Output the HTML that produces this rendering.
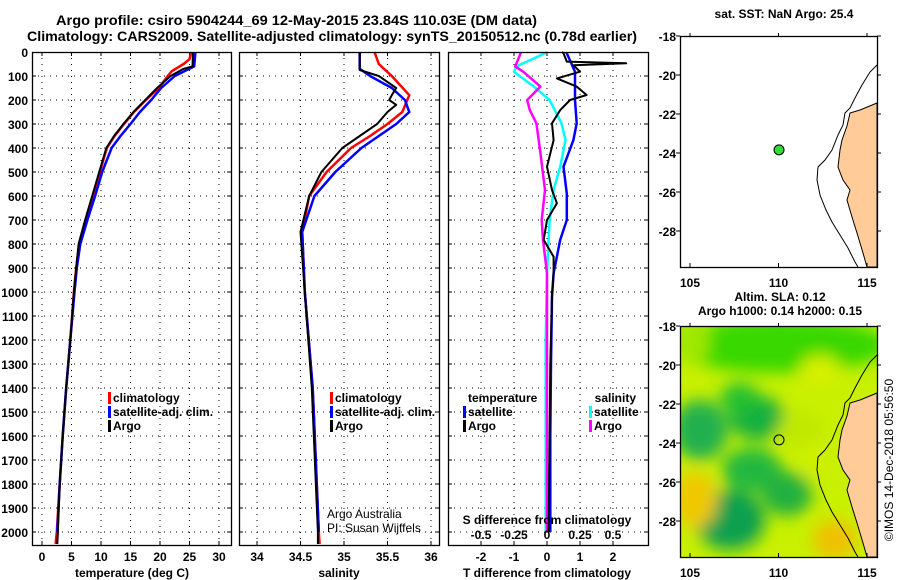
<!DOCTYPE html>
<html><head><meta charset="utf-8"><style>
html,body{margin:0;padding:0;background:#fff;}
svg{display:block;font-family:"Liberation Sans",sans-serif;}
.b{font-weight:bold;font-size:12px;}
</style></head><body>
<svg id="s" width="900" height="580" viewBox="0 0 900 580" xmlns="http://www.w3.org/2000/svg">
<text x="56" y="25" font-size="14" font-weight="bold" textLength="481" lengthAdjust="spacingAndGlyphs">Argo profile: csiro 5904244_69 12-May-2015 23.84S 110.03E (DM data)</text>
<text x="27" y="41" font-size="14" font-weight="bold" textLength="610" lengthAdjust="spacingAndGlyphs">Climatology: CARS2009. Satellite-adjusted climatology: synTS_20150512.nc (0.78d earlier)</text>
<g id="plots"></g>
<g id="maps"></g>
<text transform="translate(893,460) rotate(-90)" text-anchor="middle" font-size="12">©IMOS 14-Dec-2018 05:56:50</text>
</svg>
<script>
// ---------- data ----------
const depthTicks=[0,100,200,300,400,500,600,700,800,900,1000,1100,1200,1300,1400,1500,1600,1700,1800,1900,2000];
const tempTicks=[0,5,10,15,20,25,30];
const salTicks=[34,34.5,35,35.5,36];
const tdiffTicks=[-2,-1,0,1,2];
const sdiffTicks=[-0.5,-0.25,0,0.25,0.5];

const tArgoDepth=[0,60,70,100,150,200,250,300,350,400,500,600,700,800,900,1000,1200,1400,1600,1800,2000,2050];
const tArgo=[25.6,25.5,24,21.8,19.5,17.5,15.5,13.8,12.2,10.9,9.7,8.5,7.3,6.2,5.8,5.4,4.8,4.1,3.5,3.0,2.7,2.6];
const tClimDepth=[0,30,50,80,100,150,200,250,300,350,400,500,600,700,800,900,1000,1200,1400,1600,1800,2000,2050];
const tClim=[25.3,25.0,24.0,22.0,21.3,19.8,17.6,15.6,13.9,12.3,11.0,9.8,8.6,7.4,6.3,5.8,5.4,4.8,4.1,3.5,3.0,2.5,2.3];
const tSatDepth=[0,60,100,150,200,250,300,350,400,500,600,700,800,900,1000,1200,1400,1600,1800,2000];
const tSat=[26.0,25.8,22.5,20.2,18.5,16.6,15.0,13.3,11.8,10.2,9.0,7.7,6.5,5.9,5.5,4.8,4.1,3.5,3.0,2.6];

const sArgoDepth=[0,75,100,150,180,200,220,250,300,350,400,500,600,750,1000,1400,2000,2050];
const sArgo=[35.18,35.18,35.4,35.6,35.55,35.52,35.6,35.5,35.38,35.18,34.98,34.74,34.6,34.5,34.55,34.63,34.7,34.7];
const sClimDepth=[0,50,100,180,250,300,350,400,500,600,750,1000,1400,2000,2050];
const sClim=[35.35,35.4,35.55,35.75,35.67,35.5,35.3,35.08,34.8,34.6,34.52,34.55,34.64,34.71,34.72];
const sSatDepth=[0,70,100,150,200,250,300,350,400,500,600,750,1000,1400,2000];
const sSat=[35.18,35.18,35.3,35.55,35.7,35.75,35.6,35.4,35.2,34.9,34.66,34.52,34.55,34.64,34.71];

const dTArgoDepth=[0,5,40,47,55,82,110,144,179,200,242,297,367,478,575,630,700,783,853,922,1019,1300,1600,2000];
const dTArgo=[0.45,0.5,0.6,2.4,0.8,1.0,0.3,0.9,1.2,0.7,0.4,0.15,0.2,0,0.15,0.3,0,-0.1,0.2,0.2,0.15,0.1,0.08,0.05];
const dTSatDepth=[0,5,82,200,297,367,478,590,700,783,922,1019,1300,1600,2000];
const dTSat=[0.6,0.6,0.85,0.85,0.9,0.8,0.5,0.6,0.6,0.4,0.2,0.15,0.12,0.1,0.1];
const dSSatDepth=[0,5,60,82,144,200,297,367,478,575,700,922,1200,1600,2000];
const dSSat=[0,-0.015,-0.23,-0.25,-0.1,0.02,0.11,0.14,0.1,0.05,0.02,0,-0.01,-0.01,-0.01];
const dSArgoDepth=[0,5,60,82,144,200,242,297,340,420,575,700,783,922,1200,1600,2000];
const dSArgo=[-0.2,-0.2,-0.24,-0.18,-0.05,-0.15,-0.13,-0.08,-0.07,-0.05,-0.015,-0.04,-0.03,0,0,0,0];

// ---------- helpers ----------
const NS="http://www.w3.org/2000/svg";
const plots=document.getElementById('plots');
function mk(tag,attrs,parent){const e=document.createElementNS(NS,tag);for(const k in attrs)e.setAttribute(k,attrs[k]);(parent||plots).appendChild(e);return e;}
const TOP=52,BOT=545;
function yD(d){return TOP+d*0.24;}
function panel(x0,x1,name){
  const g=mk('g',{});
  
  
  return g;
}
function grid(g,x0,x1,xs){
  depthTicks.forEach(d=>{if(d>0){const l=mk('line',{x1:x0,x2:x1,y1:yD(d),y2:yD(d),stroke:'#000','stroke-width':1,'stroke-dasharray':'1 5'},g);
    mk('line',{x1:x0,x2:x0+4,y1:yD(d),y2:yD(d),stroke:'#000'},g);mk('line',{x1:x1-4,x2:x1,y1:yD(d),y2:yD(d),stroke:'#000'},g);}});
  xs.forEach(x=>{const l=mk('line',{x1:x,x2:x,y1:TOP,y2:BOT,stroke:'#000','stroke-width':1,'stroke-dasharray':'1 5'},g);
    mk('line',{x1:x,x2:x,y1:BOT-4,y2:BOT,stroke:'#000'},g);mk('line',{x1:x,x2:x,y1:TOP,y2:TOP+4,stroke:'#000'},g);});
}
function frame(g,x0,x1){const r=mk('rect',{x:x0+0.5,y:TOP+0.5,width:x1-x0,height:BOT-TOP,fill:'none',stroke:'#000','stroke-width':1.3},g);}
function line(g,depths,vals,fx,color,name,w){
  const pts=depths.map((d,i)=>fx(vals[i]).toFixed(1)+','+yD(d).toFixed(1)).join(' ');
  const p=mk('polyline',{points:pts,fill:'none',stroke:color,'stroke-width':w||2.5,'stroke-linejoin':'round'},g);
  
  
}
function txt(g,x,y,s,anchor,name,cls){const t=mk('text',{x:x,y:y,'text-anchor':anchor||'start',class:cls===undefined?'b':cls},g);t.textContent=s;return t;}
function legend(g,x,y,color,label){
  const r=mk('rect',{x:x-5,y:y-10,width:3,height:12,fill:color},g);
  txt(g,x,y,label,'start','legend-entry');
}

// ---------- panel 1: temperature ----------
const fT=v=>42+v*5.9;
let g=panel(32,231,'temperature-panel');
grid(g,32,231,tempTicks.map(fT));
line(g,tClimDepth,tClim,fT,'#f00','climatology-temperature-line');
line(g,tSatDepth,tSat,fT,'#00f','satellite-temperature-line');
line(g,tArgoDepth,tArgo,fT,'#000','argo-temperature-line',2);
frame(g,32,231);
depthTicks.forEach(d=>txt(g,28,yD(d)+5,String(d),'end','depth-tick-label'));
tempTicks.forEach(v=>txt(g,fT(v),561,String(v),'middle','temperature-tick-label'));
txt(g,132,577,'temperature (deg C)','middle','x-axis-title-temperature');
legend(g,113,402,'#f00','climatology');legend(g,113,416,'#00f','satellite-adj. clim.');legend(g,113,430,'#000','Argo');

// ---------- panel 2: salinity ----------
const fS=v=>257+(v-34)*87;
g=panel(239,439,'salinity-panel');
grid(g,239,439,salTicks.map(fS));
line(g,sClimDepth,sClim,fS,'#f00','climatology-salinity-line');
line(g,sSatDepth,sSat,fS,'#00f','satellite-salinity-line');
line(g,sArgoDepth,sArgo,fS,'#000','argo-salinity-line',2);
frame(g,239,439);
salTicks.forEach(v=>txt(g,fS(v),561,String(v),'middle','salinity-tick-label'));
txt(g,339,577,'salinity','middle','x-axis-title-salinity');
legend(g,335,402,'#f00','climatology');legend(g,335,416,'#00f','satellite-adj. clim.');legend(g,335,430,'#000','Argo');
txt(g,327,518,'Argo Australia','start','credit-argo-australia','').setAttribute('font-size','12');
txt(g,327,532,'PI: Susan Wijffels','start','credit-pi','').setAttribute('font-size','12');

// ---------- panel 3: differences ----------
const fdT=v=>547+v*33;
const fdS=v=>547+v*132;
g=panel(448,648,'difference-panel');
grid(g,448,648,tdiffTicks.map(fdT));
line(g,dTSatDepth,dTSat,fdT,'#00f','satellite-temperature-difference-line');
line(g,dSSatDepth,dSSat,fdS,'#0ff','satellite-salinity-difference-line');
line(g,dSArgoDepth,dSArgo,fdS,'#f0f','argo-salinity-difference-line');
line(g,dTArgoDepth,dTArgo,fdT,'#000','argo-temperature-difference-line',2);
frame(g,448,648);
tdiffTicks.forEach(v=>txt(g,fdT(v),561,String(v),'middle','tdiff-tick-label'));
sdiffTicks.forEach(v=>txt(g,fdS(v),539,String(v),'middle','sdiff-tick-label'));
txt(g,547,524,'S difference from climatology','middle','sdiff-axis-title');
txt(g,547,577,'T difference from climatology','middle','tdiff-axis-title');
txt(g,468,402,'temperature','start','legend-title-temperature');
legend(g,468,416,'#00f','satellite');legend(g,468,430,'#000','Argo');
txt(g,636,402,'salinity','end','legend-title-salinity');
legend(g,594,416,'#0ff','satellite');legend(g,594,430,'#f0f','Argo');

// ---------- maps ----------
const maps=document.getElementById('maps');
const MX0=680,MX1=877;
const latTicks=[-18,-20,-22,-24,-26,-28];
const lonTicks=[105,110,115];
const fLon=v=>690+(v-105)*17.7;
const landPts=[[877,103],[860,110],[850,113],[847,126],[842,140],[840,150],[838,167],[843,180],[850,190],[847,200],[852,217],[857,233],[863,253],[867,267],[877,267]];
const shelfPts=[[877,65],[870,72],[862,85],[855,98],[850,108],[845,113],[843,125],[838,135],[832,150],[825,160],[818,167],[817,180],[820,195],[826,210],[832,222],[840,235],[848,248],[855,262],[858,267]];
function mapFrame(top,name){
  const gm=mk('g',{},maps);
  
  
  const fLat=v=>top+(-18-v)*19.5;
  return {gm,fLat};
}
function drawMapCommon(gm,fLat,top,bottom,dy){
  const lp=landPts.map(p=>p[0]+','+(p[1]+dy)).join(' ');
  const l=mk('polygon',{points:lp,fill:'#ffcc99',stroke:'#000','stroke-width':1},gm);
  const sp=shelfPts.map(p=>p[0]+','+(p[1]+dy)).join(' ');
  const s=mk('polyline',{points:sp,fill:'none',stroke:'#000','stroke-width':1},gm);
  const r=mk('rect',{x:MX0+0.5,y:top+0.5,width:MX1-MX0,height:bottom-top,fill:'none',stroke:'#000','stroke-width':1.3},gm);
  latTicks.forEach(v=>{const y=fLat(v);mk('line',{x1:MX0,x2:MX0-4,y1:y,y2:y,stroke:'#000'},gm);mk('line',{x1:MX1,x2:MX1+4,y1:y,y2:y,stroke:'#000'},gm);txt(gm,676,y+5,String(v),'end','latitude-tick-label');});
  lonTicks.forEach(v=>{const x=fLon(v);mk('line',{x1:x,x2:x,y1:bottom,y2:bottom-4,stroke:'#000'},gm);mk('line',{x1:x,x2:x,y1:top,y2:top-3,stroke:'#000'},gm);txt(gm,x,bottom+20,String(v),'middle','longitude-tick-label');});
}
// map 1
let m=mapFrame(36,'sst-map');
mk('rect',{x:MX0,y:36,width:MX1-MX0,height:231,fill:'#fff'},m.gm);
drawMapCommon(m.gm,m.fLat,36,267,0);
let c=mk('circle',{cx:fLon(110.03),cy:m.fLat(-23.84),r:5,fill:'#33dd33',stroke:'#000'},m.gm);

txt(m.gm,784,18,'sat. SST: NaN Argo: 25.4','middle','sst-map-title');
// map 2
m=mapFrame(326,'sla-map');
const defs=mk('defs',{},m.gm);
const f=mk('filter',{id:'bl',x:'-20%',y:'-20%',width:'140%',height:'140%'},defs);
mk('feGaussianBlur',{stdDeviation:8},f);
const cp=mk('clipPath',{id:'cp'},defs);
mk('rect',{x:MX0,y:326,width:MX1-MX0,height:231},cp);
const fg=mk('g',{'clip-path':'url(#cp)'},m.gm);

mk('rect',{x:MX0,y:326,width:MX1-MX0,height:231,fill:'#c8f000'},fg);
const bg=mk('g',{filter:'url(#bl)'},fg);
[[780,345,110,28,'#38d800'],[690,340,20,25,'#a0e800'],[700,430,28,30,'#20b050'],[757,418,28,22,'#18b040'],[740,398,20,15,'#20c030'],[752,470,30,22,'#20b840'],[787,494,25,22,'#20b040'],[730,520,35,30,'#10a050'],[695,500,22,28,'#f0c800'],[835,540,22,20,'#f0c000'],[812,455,10,25,'#d0f000'],[800,430,22,18,'#c0e800'],[820,370,20,15,'#d8f000']].forEach(b=>mk('ellipse',{cx:b[0],cy:b[1],rx:b[2],ry:b[3],fill:b[4]},bg));
drawMapCommon(m.gm,m.fLat,326,557,290);
c=mk('circle',{cx:fLon(110.03),cy:m.fLat(-23.84),r:5,fill:'none',stroke:'#000'},m.gm);

txt(m.gm,780,301,'Altim. SLA: 0.12','middle','sla-map-title');
txt(m.gm,780,315,'Argo h1000: 0.14 h2000: 0.15','middle','sla-map-subtitle');
</script>
</body></html>
